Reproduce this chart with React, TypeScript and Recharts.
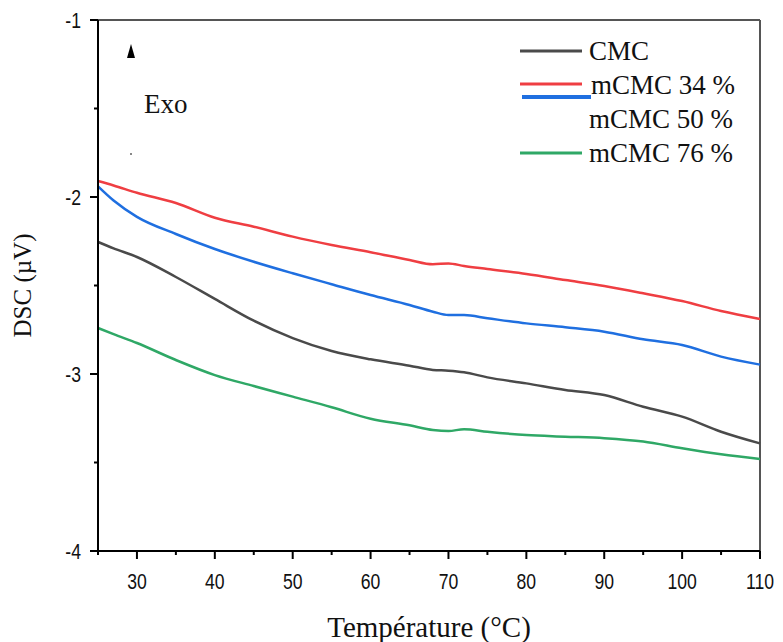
import React from 'react';
import {
  LineChart,
  Line,
  XAxis,
  YAxis,
  ReferenceLine,
} from 'recharts';

const TEMPS = [25, 27, 30, 35, 40, 45, 50, 55, 60, 65, 68, 70, 72, 75, 80, 85, 90, 95, 100, 105, 110];
const CMC = [-2.254, -2.29, -2.339, -2.452, -2.576, -2.699, -2.797, -2.87, -2.917, -2.953, -2.977, -2.981, -2.99, -3.019, -3.053, -3.09, -3.119, -3.185, -3.241, -3.326, -3.392];
const MCMC_34 = [-1.91, -1.935, -1.976, -2.034, -2.117, -2.168, -2.224, -2.271, -2.312, -2.356, -2.38, -2.375, -2.39, -2.407, -2.435, -2.469, -2.503, -2.544, -2.588, -2.644, -2.689];
const MCMC_50 = [-1.94, -2.02, -2.112, -2.209, -2.294, -2.366, -2.431, -2.493, -2.554, -2.61, -2.648, -2.667, -2.667, -2.685, -2.714, -2.736, -2.761, -2.804, -2.836, -2.902, -2.947];
const MCMC_76 = [-2.74, -2.775, -2.825, -2.921, -3.006, -3.068, -3.128, -3.188, -3.253, -3.29, -3.316, -3.322, -3.312, -3.326, -3.345, -3.354, -3.363, -3.382, -3.42, -3.454, -3.48];

const X_TICKS = [25, 30, 35, 40, 45, 50, 55, 60, 65, 70, 75, 80, 85, 90, 95, 100, 105, 110];
const X_LABELED = [30, 40, 50, 60, 70, 80, 90, 100, 110];
const Y_TICKS = [-4, -3.5, -3, -2.5, -2, -1.5, -1];
const Y_LABELED = [-4, -3, -2, -1];

const SERIES = [
  { key: 'cmc', name: 'CMC', color: '#4a4a4a', values: CMC },
  { key: 'm34', name: 'mCMC 34 %', color: '#ef3e42', values: MCMC_34 },
  { key: 'm50', name: 'mCMC 50 %', color: '#1f6fe0', values: MCMC_50 },
  { key: 'm76', name: 'mCMC 76 %', color: '#2fa866', values: MCMC_76 },
];

const data = TEMPS.map((t, i) => {
  const row: { [k: string]: number } = { t };
  SERIES.forEach(s => (row[s.key] = s.values[i]));
  return row;
});

const tickFont = '"Liberation Sans", Arial, sans-serif';
const serif = '"Liberation Serif", "Times New Roman", serif';

// no narrow font installed, so squeeze Liberation Sans to look like Arial Narrow
const XTick = ({ x, y, payload }: any) => {
  const major = X_LABELED.includes(payload.value);
  return (
    <g>
      <path d={`M${x},${y}V${y + (major ? 8 : 4)}`} stroke="#000" strokeWidth={2} fill="none" />
      {major && (
        <text transform={`translate(${x},${y + 38}) scale(0.8,1)`} textAnchor="middle" fontFamily={tickFont} fontSize={22} fill="#111">
          {payload.value}
        </text>
      )}
    </g>
  );
};

const YTick = ({ x, y, payload }: any) => {
  const major = Y_LABELED.includes(payload.value);
  return (
    <g>
      <path d={`M${x},${y}H${x - (major ? 8 : 4)}`} stroke="#000" strokeWidth={2} fill="none" />
      {major && (
        <text transform={`translate(${x - 17},${y}) scale(0.8,1)`} dy="0.35em" textAnchor="end" fontFamily={tickFont} fontSize={22} fill="#111">
          {payload.value}
        </text>
      )}
    </g>
  );
};

// legend as in the figure: labels slightly out of step with their lines
const legendText = { fontFamily: serif, fontSize: 27, fill: '#111' };

const DscLegend = () => (
  <svg width={240} height={150} style={{ overflow: 'visible', display: 'block' }}>
    <line x1={0} x2={62} y1={31} y2={31} stroke={SERIES[0].color} strokeWidth={3} />
    <line x1={0} x2={62} y1={64} y2={64} stroke={SERIES[1].color} strokeWidth={3} />
    <line x1={2} x2={71} y1={77} y2={77} stroke={SERIES[2].color} strokeWidth={4} />
    <line x1={0} x2={62} y1={133} y2={133} stroke={SERIES[3].color} strokeWidth={3} />
    <text x={69} y={40} style={legendText}>{SERIES[0].name}</text>
    <text x={71} y={74} style={legendText}>{SERIES[1].name}</text>
    <text x={69} y={108} style={legendText}>{SERIES[2].name}</text>
    <text x={69} y={142} style={legendText}>{SERIES[3].name}</text>
  </svg>
);

const YLabel = ({ viewBox }: any) => {
  const cx = viewBox.x + 22;
  const cy = viewBox.y + viewBox.height / 2;
  return (
    <text x={cx} y={cy} transform={`rotate(-90, ${cx}, ${cy})`} textAnchor="middle" dy="0.35em" style={{ fontFamily: serif, fontSize: 25, fill: '#111' }}>
      DSC (µV)
    </text>
  );
};

const XLabel = ({ viewBox }: any) => (
  <text x={viewBox.x + viewBox.width / 2} y={viewBox.y + 86} textAnchor="middle" style={{ fontFamily: serif, fontSize: 29, fill: '#111' }}>
    Température (°C)
  </text>
);

export default function App() {
  return (
    <div style={{ position: 'absolute', left: 0, top: 0, width: 783, height: 642, background: '#fff' }}>
      <LineChart width={783} height={642} data={data} margin={{ top: 20, right: 23, bottom: 0, left: 0 }}>
        <XAxis
          dataKey="t"
          type="number"
          domain={[25, 110]}
          ticks={X_TICKS}
          interval={0}
          height={91}
          tickSize={0}
          tickMargin={0}
          tickLine={false}
          tick={<XTick />}
          axisLine={{ stroke: '#000', strokeWidth: 2 }}
          label={<XLabel />}
        />
        <YAxis
          type="number"
          domain={[-4, -1]}
          ticks={Y_TICKS}
          interval={0}
          width={98}
          tickSize={0}
          tickMargin={0}
          tickLine={false}
          tick={<YTick />}
          axisLine={{ stroke: '#000', strokeWidth: 2 }}
          label={<YLabel />}
        />
        <ReferenceLine y={-1} stroke="#555" strokeWidth={2} />
        <ReferenceLine x={110} stroke="#555" strokeWidth={2} />
        {SERIES.map(s => (
          <Line
            key={s.key}
            dataKey={s.key}
            name={s.name}
            stroke={s.color}
            strokeWidth={2.5}
            dot={false}
            type="monotone"
            isAnimationActive={false}
          />
        ))}
      </LineChart>
      <div style={{ position: 'absolute', left: 520, top: 20 }}>
        <DscLegend />
      </div>
      <div style={{ position: 'absolute', left: 127, top: 44, width: 0, height: 0, borderLeft: '4px solid transparent', borderRight: '4px solid transparent', borderBottom: '14px solid #000' }} />
      <div style={{ position: 'absolute', left: 144, top: 87, fontFamily: serif, fontSize: 27, color: '#111', lineHeight: '34px' }}>Exo</div>
      <div style={{ position: 'absolute', left: 130, top: 153, width: 2, height: 2, background: '#888' }} />
    </div>
  );
}
